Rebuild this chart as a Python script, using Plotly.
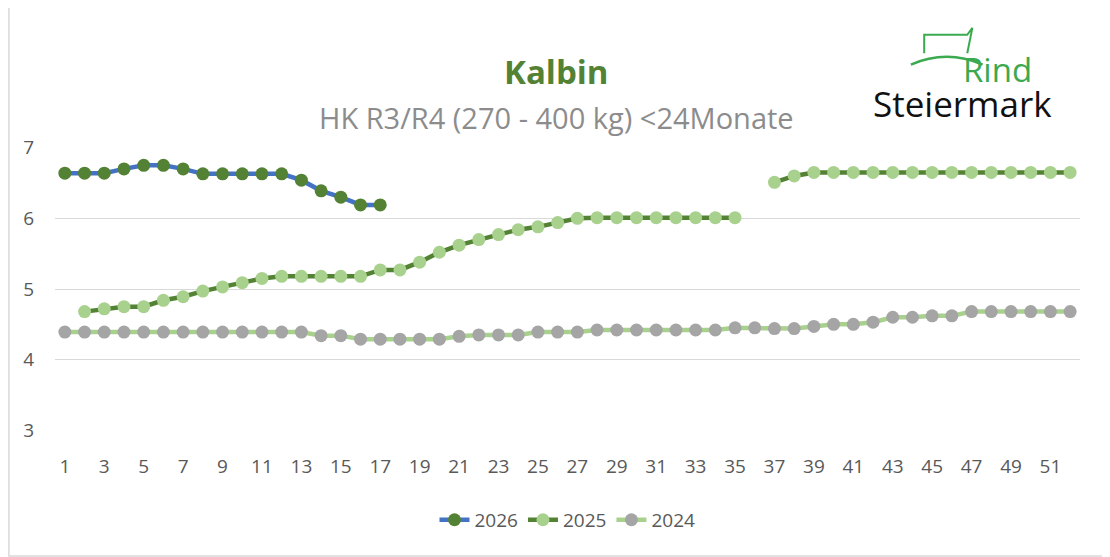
import plotly.graph_objects as go

weeks = list(range(1, 53))

y2026 = [6.64, 6.64, 6.64, 6.70, 6.75, 6.75, 6.70, 6.63, 6.63, 6.63, 6.63, 6.63,
         6.54, 6.39, 6.30, 6.19, 6.19]

y2025 = [None, 4.68, 4.72, 4.75, 4.75, 4.84, 4.89, 4.97, 5.03, 5.09, 5.15, 5.18,
         5.18, 5.18, 5.18, 5.18, 5.27, 5.27, 5.38, 5.52, 5.62, 5.70, 5.77, 5.84,
         5.88, 5.94, 6.00, 6.01, 6.01, 6.01, 6.01, 6.01, 6.01, 6.01, 6.01, None,
         6.51, 6.60, 6.65, 6.65, 6.65, 6.65, 6.65, 6.65, 6.65, 6.65, 6.65, 6.65,
         6.65, 6.65, 6.65, 6.65]

y2024 = [4.39, 4.39, 4.39, 4.39, 4.39, 4.39, 4.39, 4.39, 4.39, 4.39, 4.39, 4.39,
         4.39, 4.34, 4.34, 4.29, 4.29, 4.29, 4.29, 4.29, 4.33, 4.35, 4.35, 4.35,
         4.39, 4.39, 4.39, 4.42, 4.42, 4.42, 4.42, 4.42, 4.42, 4.42, 4.45, 4.45,
         4.44, 4.44, 4.47, 4.50, 4.50, 4.53, 4.60, 4.60, 4.62, 4.62, 4.68, 4.68,
         4.68, 4.68, 4.68, 4.68]

fig = go.Figure()
fig.add_trace(go.Scatter(x=weeks[:len(y2026)], y=y2026, name='2026', mode='lines+markers',
                         line=dict(color='#4472C4', width=4.5),
                         marker=dict(color='#548235', size=13)))
fig.add_trace(go.Scatter(x=weeks, y=y2025, name='2025', mode='lines+markers',
                         line=dict(color='#548235', width=4.5),
                         marker=dict(color='#A9D18E', size=13)))
fig.add_trace(go.Scatter(x=weeks, y=y2024, name='2024', mode='lines+markers',
                         line=dict(color='#A9D18E', width=4.5),
                         marker=dict(color='#A5A5A5', size=13)))

fig.update_layout(
    width=1110, height=557,
    paper_bgcolor='white', plot_bgcolor='white',
    font=dict(family='Open Sans', color='#595959', size=19),
    margin=dict(l=47, r=38, t=139, b=134),
    showlegend=True,
    legend=dict(orientation='h', x=0.5, xanchor='center', y=-0.313, yanchor='middle',
                font=dict(size=19, color='#595959'), traceorder='normal'),
    xaxis=dict(range=[0.5, 52.5], tickmode='array', tickvals=list(range(1, 53, 2)),
               showgrid=False, zeroline=False, showline=False, ticks='',
               ticklabelstandoff=22, fixedrange=True),
    yaxis=dict(range=[2.99, 7.01], tickvals=[3, 4, 5, 6, 7], showgrid=True,
               gridcolor='#D9D9D9', gridwidth=1.3, zeroline=False, ticks='',
               ticklabelstandoff=20, fixedrange=True),
    shapes=[
        dict(type='rect', xref='paper', yref='paper', x0=-0.045, x1=1.035,
             y0=-0.44, y1=1.50, line=dict(color='#D9D9D9', width=1.5)),
        # simple cow-logo hill line
        dict(type='path', xref='paper', yref='paper',
             path='M 0.835 1.29 Q 0.87 1.345 0.905 1.29',
             line=dict(color='#3BAA4E', width=2.5)),
        dict(type='path', xref='paper', yref='paper',
             path='M 0.848 1.33 L 0.848 1.395 L 0.89 1.395 L 0.895 1.42 L 0.89 1.33',
             line=dict(color='#3BAA4E', width=2)),
    ],
    annotations=[
        dict(text='<b>Kalbin</b>', xref='paper', yref='paper', x=0.489, y=1.352,
             showarrow=False, font=dict(size=33, color='#548235')),
        dict(text='HK R3/R4 (270 - 400 kg) <24Monate', xref='paper', yref='paper',
             x=0.489, y=1.18, showarrow=False, font=dict(size=29, color='#8C8C8C')),
        dict(text='Rind', xref='paper', yref='paper', x=0.955, y=1.36, xanchor='right',
             showarrow=False, font=dict(size=33, color='#3BAA4E')),
        dict(text='Steiermark', xref='paper', yref='paper', x=0.975, y=1.243, xanchor='right',
             showarrow=False, font=dict(size=35, color='#111111')),
    ],
)

fig.write_html("out.html")
